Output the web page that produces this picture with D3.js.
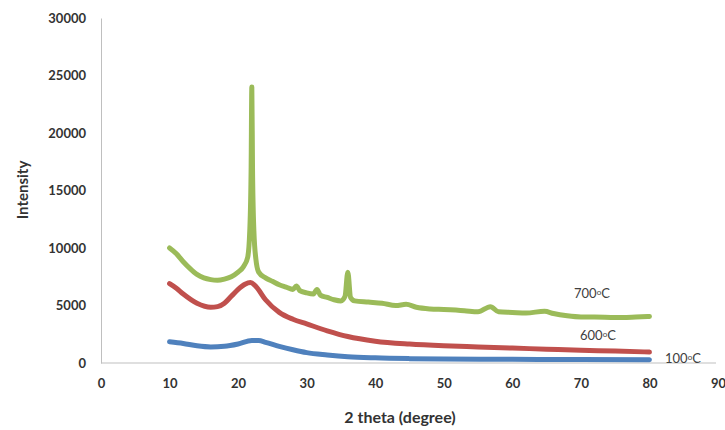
<!DOCTYPE html>
<html>
<head>
<meta charset="utf-8">
<script src="https://cdn.jsdelivr.net/npm/d3@7"></script>
<style>
  body { margin: 0; background: #fff; }
  .tick text { font-family: Lato, "Open Sans", sans-serif; font-weight: bold; font-size: 13px; fill: #333; }
  .axisText { font-family: Lato, "Open Sans", sans-serif; font-weight: bold; fill: #333; }
  .lbl { font-family: Lato, "Open Sans", sans-serif; font-size: 13px; fill: #404040; }
</style>
</head>
<body>
<div class="chart"></div>
<script>
// data (2 theta in degrees, intensity)
var theta100 = [10, 12, 14, 16, 18, 20, 22, 23, 24, 26, 28, 30, 33, 36, 40, 45, 50, 60, 70, 80];
var int100 = [1850, 1700, 1500, 1400, 1450, 1650, 1950, 1950, 1800, 1450, 1150, 900, 700, 550, 450, 380, 340, 320, 300, 290];

var theta600 = [10, 11, 12, 14, 16, 17, 18, 19, 20, 21, 21.8, 22.6, 24, 26, 28, 30, 33, 36, 40, 45, 50, 55, 60, 65, 70, 75, 80];
var int600 = [6900, 6500, 6000, 5200, 4850, 4900, 5200, 5800, 6400, 6850, 7000, 6650, 5500, 4400, 3800, 3400, 2800, 2300, 1900, 1650, 1500, 1400, 1300, 1200, 1100, 1050, 950];

var theta700 = [10, 11, 12, 13, 14, 15, 16, 17, 18, 19, 20, 20.8, 21.4, 21.7, 21.9, 22.0, 22.1, 22.3, 22.6, 23.0, 24, 25, 26, 27, 28, 28.5, 29, 30, 31, 31.5, 32, 33, 34, 35, 35.6, 36.0, 36.4, 37, 39, 41, 43, 44.5, 46, 48, 50, 53, 55, 56.8, 58, 60, 62, 64.7, 66, 68, 70, 72, 75, 78, 80];
var int700 = [10000, 9500, 8800, 8200, 7700, 7400, 7250, 7200, 7300, 7500, 7900, 8400, 9200, 11500, 17000, 24000, 17000, 11500, 9000, 7900, 7400, 7100, 6800, 6600, 6400, 6700, 6300, 6100, 6000, 6400, 5900, 5700, 5500, 5400, 5800, 7900, 5700, 5400, 5300, 5200, 5000, 5100, 4850, 4700, 4650, 4550, 4450, 4900, 4450, 4400, 4350, 4500, 4300, 4100, 4000, 4000, 3950, 4000, 4050];

var xTicks = [0, 10, 20, 30, 40, 50, 60, 70, 80, 90];
var yTicks = [0, 5000, 10000, 15000, 20000, 25000, 30000];

var seriesNames = ["100", "600", "700"];
var colors = ["#4f81bd", "#c0504d", "#9bbb59"];

var svgWidth = 725;
var svgHeight = 430;
var margin = { top: 18, right: 9, bottom: 67, left: 101 };
var width = svgWidth - margin.left - margin.right;
var height = svgHeight - margin.top - margin.bottom;

var svg = d3.select(".chart")
  .append("svg")
  .attr("width", svgWidth)
  .attr("height", svgHeight);

var chartGroup = svg.append("g")
  .attr("transform", `translate(${margin.left}, ${margin.top})`);

var xScale = d3.scaleLinear().domain([0, 90]).range([0, 617]);
var yScale = d3.scaleLinear().domain([0, 30000]).range([height, 0]);

// axes: gray lines, no tick marks
var bottomAxis = d3.axisBottom(xScale).tickValues(xTicks).tickSize(0).tickPadding(16).tickFormat(d3.format("d"));
var leftAxis = d3.axisLeft(yScale).tickValues(yTicks).tickSize(0).tickPadding(15).tickFormat(d3.format("d"));

var xg = chartGroup.append("g")
  .attr("transform", `translate(0, ${height})`)
  .call(bottomAxis);
xg.select(".domain").attr("stroke", "#bfbfbf").attr("d", `M0,0H615`);

var yg = chartGroup.append("g").call(leftAxis);
yg.select(".domain").attr("stroke", "#bfbfbf");

var series = [
  { name: seriesNames[0], x: theta100, y: int100 },
  { name: seriesNames[1], x: theta600, y: int600 },
  { name: seriesNames[2], x: theta700, y: int700 }
];

var line = d3.line()
  .x(d => xScale(d[0]))
  .y(d => yScale(d[1]))
  .curve(d3.curveMonotoneX);

series.forEach(function(s, i) {
  chartGroup.append("path")
    .datum(d3.zip(s.x, s.y))
    .attr("fill", "none")
    .attr("stroke", colors[i])
    .attr("stroke-width", 5)
    .attr("stroke-linejoin", "round")
    .attr("stroke-linecap", "round")
    .attr("d", line);
});

// series labels
var labelPos = [[564, 345], [479, 322], [473, 280]];
labelPos.forEach(function(p, i) {
  var t = chartGroup.append("text")
    .attr("class", "lbl")
    .attr("x", p[0])
    .attr("y", p[1]);
  t.append("tspan").text(seriesNames[i]);
  t.append("tspan").attr("font-size", "8px").attr("dy", "-3").text("o");
  t.append("tspan").attr("dy", "3").text("C");
});

// axis titles
chartGroup.append("text")
  .attr("class", "axisText")
  .attr("transform", "rotate(-90)")
  .attr("x", 0 - (190 - margin.top))
  .attr("y", 0 - margin.left + 28)
  .attr("text-anchor", "middle")
  .style("font-size", "15px")
  .text("Intensity");

chartGroup.append("text")
  .attr("class", "axisText")
  .attr("transform", `translate(${400 - margin.left}, ${423 - margin.top})`)
  .attr("text-anchor", "middle")
  .style("font-size", "16px")
  .text("2 theta (degree)");
</script>
</body>
</html>
